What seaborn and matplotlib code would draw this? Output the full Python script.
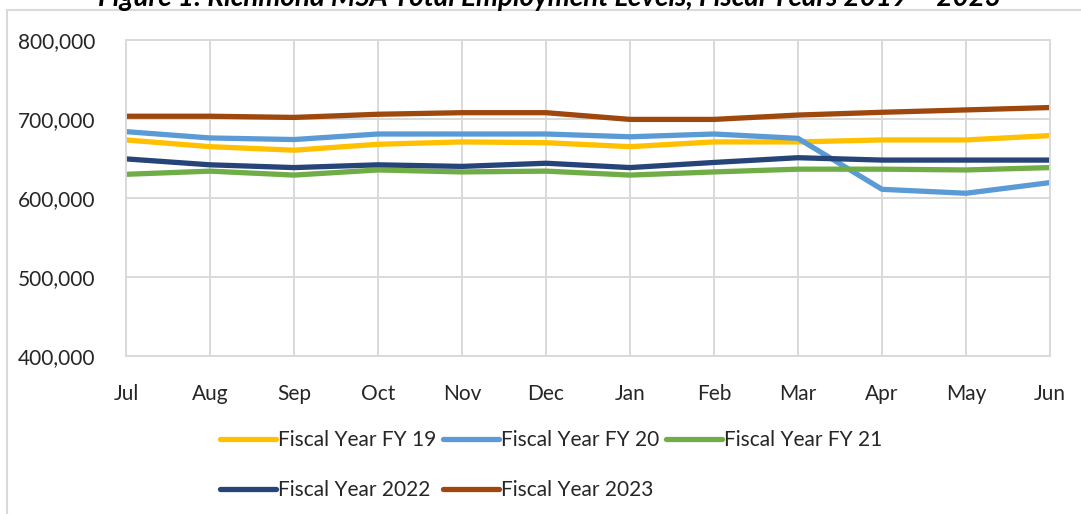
import matplotlib
matplotlib.use("Agg")
import matplotlib.pyplot as plt
from matplotlib.lines import Line2D
from matplotlib.ticker import FuncFormatter
import seaborn as sns
import pandas as pd

months = ["Jul", "Aug", "Sep", "Oct", "Nov", "Dec", "Jan", "Feb", "Mar", "Apr", "May", "Jun"]
fy19 = [673500, 665000, 660500, 668000, 671000, 670000, 665000, 671000, 671000, 673500, 673500, 679000]
fy20 = [684000, 676000, 674000, 681000, 681000, 681000, 677500, 681000, 675500, 611000, 606000, 619500]
fy21 = [630000, 634000, 629000, 635500, 633000, 634000, 629000, 633000, 636500, 636500, 635500, 638500]
fy22 = [649500, 642000, 638500, 642000, 640000, 644000, 638500, 645000, 651000, 648000, 648000, 648000]
fy23 = [703500, 703500, 702000, 706000, 708000, 708000, 699500, 699500, 705000, 708500, 711500, 714500]
series_names = ["Fiscal Year FY 19", "Fiscal Year FY 20", "Fiscal Year FY 21",
                "Fiscal Year 2022", "Fiscal Year 2023"]
y_ticks = [400000, 500000, 600000, 700000, 800000]
title = "Figure 1: Richmond MSA Total Employment Levels, Fiscal Years 2019 \u2013 2023"

colors = ["#FFC000", "#5B9BD5", "#70AD47", "#264478", "#9E480E"]

rows = []
for name, vals in zip(series_names, [fy19, fy20, fy21, fy22, fy23]):
    for m, v in zip(months, vals):
        rows.append({"Month": m, "Employment": v, "Series": name})
df = pd.DataFrame(rows)

sns.set_theme(style="white")
plt.rcParams["font.family"] = ["Lato", "DejaVu Sans"]

fig = plt.figure(figsize=(10.81, 5.14), dpi=100)
ax = fig.add_axes([126 / 1081, 1 - 356 / 514, (1050 - 126) / 1081, (356 - 40) / 514])

sns.lineplot(data=df, x="Month", y="Employment", hue="Series", hue_order=series_names,
             palette=colors, linewidth=3.8, sort=False, ax=ax, legend=False)

ax.set_xlim(0, len(months) - 1)
ax.set_ylim(400000, 800000)
ax.set_yticks(y_ticks)
ax.yaxis.set_major_formatter(FuncFormatter(lambda v, p: f"{int(v):,}"))
ax.set_xticks(range(len(months)))
ax.set_xticklabels(months)
ax.set_xlabel("")
ax.set_ylabel("")
ax.grid(True, color="#D9D9D9", linewidth=1.4)
ax.set_axisbelow(True)
for s in ax.spines.values():
    s.set_color("#D9D9D9")
    s.set_linewidth(1.4)
ax.tick_params(axis="both", length=0, labelsize=15, colors="#262626")
ax.tick_params(axis="y", pad=22)
ax.tick_params(axis="x", pad=20)

# legend: order so that rows read FY19, FY20, FY21 / 2022, 2023
handles = {n: Line2D([0], [0], color=c, linewidth=3.8, solid_capstyle="round")
           for n, c in zip(series_names, colors)}
order = [series_names[0], series_names[3], series_names[1], series_names[4], series_names[2]]
fig.legend([handles[n] for n in order], order, ncol=3, loc="upper left",
           bbox_to_anchor=(220 / 1081, 1 - 430 / 514), frameon=False,
           fontsize=15, handlelength=2.7, handletextpad=0.1, columnspacing=0.3,
           labelspacing=1.45, borderpad=0, borderaxespad=0)

# outer chart frame (open at right/bottom)
fig.add_artist(Line2D([7 / 1081, 7 / 1081], [0, 1 - 10 / 514], transform=fig.transFigure,
                      color="#D9D9D9", linewidth=1.5))
fig.add_artist(Line2D([7 / 1081, 1], [1 - 10 / 514, 1 - 10 / 514], transform=fig.transFigure,
                      color="#D9D9D9", linewidth=1.5))

# title, partially cut off at the top edge (as in the reference)
fig.text(549 / 1081, 1 - 6 / 514, title, ha="center", va="baseline",
         fontsize=20, fontweight="bold", fontstyle="italic", color="#000000")

fig.savefig("out.png", dpi=100)
